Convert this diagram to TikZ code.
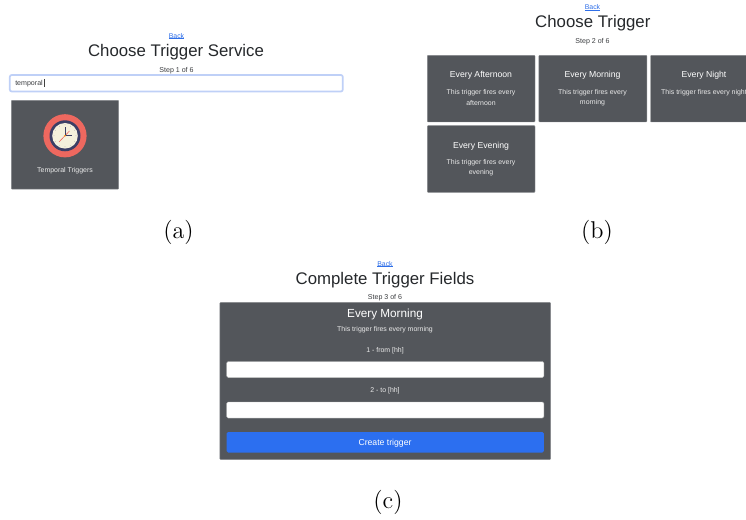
\documentclass[tikz,border=0pt]{standalone}
\usepackage{fontspec}
\usetikzlibrary{calc}
\setsansfont{Liberation Sans}
\definecolor{cardgrey}{HTML}{53565B}
\definecolor{inkdark}{HTML}{25282B}
\definecolor{linkblue}{HTML}{2F6FE8}
\definecolor{btnblue}{HTML}{2C6FF0}
\definecolor{focusblue}{HTML}{BFD0F7}
\definecolor{clockred}{HTML}{EE685F}
\definecolor{clocknavy}{HTML}{3C3F66}
\definecolor{clockcream}{HTML}{F5F1DC}
\newcommand{\linktext}[1]{\setbox0\hbox{#1}\rlap{\rule[-0.55pt]{\wd0}{0.3pt}}#1}
\tikzset{
  x=0.75pt,y=-0.75pt,
  headline/.style={font=\sffamily\fontsize{12.6pt}{16pt}\selectfont,text=inkdark,inner sep=0pt},
  backlink/.style={font=\sffamily\fontsize{5.2pt}{6pt}\selectfont,text=linkblue,inner sep=0pt},
  stepline/.style={font=\sffamily\fontsize{5.3pt}{6pt}\selectfont,text=inkdark!90,inner sep=0pt},
  cardhead/.style={font=\sffamily\fontsize{6.5pt}{8pt}\selectfont,text=white,inner sep=0pt},
  cardbody/.style={font=\sffamily\fontsize{5.2pt}{7.7pt}\selectfont,text=white!92!black,inner sep=0pt,align=center},
  cardbox/.style={fill=cardgrey,draw=cardgrey!70!white,line width=0.35pt,rounded corners=0.6pt},
  fieldbox/.style={fill=white,draw=black!25,line width=0.3pt,rounded corners=1pt},
  subcap/.style={font=\fontsize{14pt}{16pt}\selectfont,text=black,inner sep=0pt,scale=1.3}
}
\begin{document}
\begin{tikzpicture}
\clip (0,0) rectangle (746,520);
% (a)
\node[backlink] (backa) at (176.5,36) {\linktext{Back}};
\node[headline] (titlea) at (176,52) {Choose Trigger Service};
\node[stepline] (stepa) at (176.5,70.5) {Step 1 of 6};
\draw[fill=white,draw=focusblue,line width=1.3pt,rounded corners=1.5pt] (9.8,75) rectangle (342.8,91.5);
\node[stepline,anchor=west] (searcha) at (15,84) {temporal};
\draw[black!75,line width=0.25pt] (44.6,79.5) -- (44.6,87.5);
\draw[cardbox] (11.3,100.3) rectangle (118.7,189.2);
\fill[clockred] (65,135.8) circle[radius=21.6];
\fill[clocknavy] (65,135.8) circle[radius=15.5];
\fill[clockcream] (65,135.8) circle[radius=12.8];
\foreach \a in {0,30,...,330}{\fill[black!35] ($(65,135.8)+(\a:11)$) circle[radius=0.3];}
\draw[clockred,line width=0.45pt] (59,142) -- (69.5,131);
\draw[clocknavy,line width=0.7pt] (65,135.8) -- (65,127);
\draw[clocknavy,line width=0.7pt] (65,135.8) -- (72,135.8);
\fill[orange!80!yellow] (65,135.8) circle[radius=0.9];
\node[cardbody] (labela) at (65,170.8) {Temporal Triggers};
\node[subcap] (capa) at (178.5,232.5) {(a)};
% (b)
\node[backlink] (backb) at (592.5,7.5) {\linktext{Back}};
\node[headline] (titleb) at (592.8,23.5) {Choose Trigger};
\node[stepline] (stepb) at (592.5,42) {Step 2 of 6};
\draw[cardbox] (427.3,55.3) rectangle (535,122);
\draw[cardbox] (538.8,55.3) rectangle (646.8,122);
\draw[cardbox] (650.5,55.3) rectangle (760,122);
\draw[cardbox] (427.3,125.7) rectangle (535,192.3);
\node[cardhead] (h1) at (481,75.5) {Every Afternoon};
\node[cardbody] (b1) at (481,97.5) {This trigger fires every\\afternoon};
\node[cardhead] (h2) at (592.5,75.5) {Every Morning};
\node[cardbody] (b2) at (592.5,97.5) {This trigger fires every\\morning};
\node[cardhead] (h3) at (704,75.5) {Every Night};
\node[cardbody] (b3) at (704,92.5) {This trigger fires every night};
\node[cardhead] (h4) at (481,145.8) {Every Evening};
\node[cardbody] (b4) at (481,167.8) {This trigger fires every\\evening};
\node[subcap] (capb) at (597,232.5) {(b)};
% (c)
\node[backlink] (backc) at (385,264) {\linktext{Back}};
\node[headline] (titlec) at (385,280) {Complete Trigger Fields};
\node[stepline] (stepc) at (385,298) {Step 3 of 6};
\draw[cardbox] (219.8,302.5) rectangle (550.7,459.5);
\node[font=\sffamily\fontsize{8.8pt}{11pt}\selectfont,text=white,inner sep=0pt] (hc) at (385,314) {Every Morning};
\node[cardbody] (bc) at (385,329.5) {This trigger fires every morning};
\node[cardbody] (l1) at (385,350.5) {1 - from [hh]};
\draw[fieldbox] (226.7,361.5) rectangle (543.8,377.5);
\node[cardbody] (l2) at (385,390.5) {2 - to [hh]};
\draw[fieldbox] (226.7,402) rectangle (543.8,418);
\fill[btnblue,rounded corners=1pt] (226.7,432) rectangle (543.8,452.5);
\node[font=\sffamily\fontsize{6.5pt}{8pt}\selectfont,text=white,inner sep=0pt] (btn) at (385,442.8) {Create trigger};
\node[subcap] (capc) at (388,502.5) {(c)};
\end{tikzpicture}
\end{document}
